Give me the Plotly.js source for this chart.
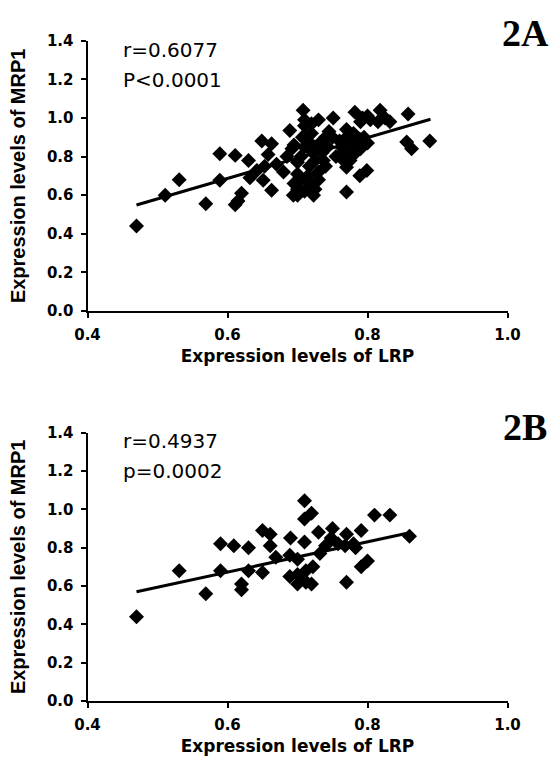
<!DOCTYPE html>
<html>
<head>
<meta charset="utf-8">
<script src="https://cdn.plot.ly/plotly-3.0.1.min.js"></script>
<style>html,body{margin:0;padding:0;background:#fff;}#chart{width:558px;height:760px;}</style>
</head>
<body>
<div id="chart"></div>
<script>
// Panel 2A: all samples
const lrpA = [0.47,0.511,0.531,0.569,0.589,0.589,0.611,0.611,0.615,0.62,0.63,0.632,0.642,0.651,0.649,0.663,0.658,0.663,0.653,0.67,
  0.689,0.692,0.694,0.70,0.708,0.71,0.707,0.70,0.717,0.723,0.73,0.722,0.732,0.737,0.751,0.75,0.743,0.77,0.77,0.77,
  0.763,0.776,0.782,0.783,0.789,0.789,0.799,0.793,0.804,0.818,0.832,0.856,0.863,0.858,0.889,0.763,0.778,
  0.695,0.70,0.705,0.71,0.715,0.72,0.725,0.73,0.70,0.705,0.71,0.715,0.72,0.725,0.73,0.735,0.74,0.745,0.71,0.72,0.695,0.74,0.715,0.725,
  0.765,0.77,0.775,0.78,0.785,0.79,0.795,0.80,0.77,0.78,0.80,0.815,0.825,0.79,0.68,0.685,0.755,0.76];
const mrpA = [0.44,0.60,0.68,0.556,0.677,0.815,0.806,0.55,0.57,0.61,0.78,0.69,0.728,0.677,0.88,0.866,0.81,0.625,0.75,0.76,
  0.935,0.84,0.60,0.60,1.04,0.99,0.90,0.71,0.75,0.60,0.99,0.82,0.87,0.78,1.00,0.90,0.85,0.94,0.745,0.616,
  0.85,0.87,1.03,0.82,0.89,0.70,0.728,1.00,0.99,1.04,0.98,0.875,0.84,1.02,0.88,0.79,0.83,
  0.66,0.63,0.68,0.62,0.64,0.66,0.63,0.68,0.77,0.80,0.85,0.88,0.92,0.78,0.72,0.82,0.90,0.93,0.96,0.97,0.86,0.75,0.70,0.85,
  0.82,0.80,0.78,0.86,0.88,0.84,0.90,0.87,0.90,0.92,1.01,0.98,1.00,0.98,0.72,0.80,0.80,0.88];
const fitXA = [0.47, 0.89];
const fitYA = [0.549, 0.993];

// Panel 2B: subset
const lrpB = [0.47,0.531,0.569,0.59,0.59,0.609,0.62,0.62,0.63,0.63,0.65,0.65,0.661,0.661,0.669,0.69,0.689,0.70,0.689,0.71,
  0.71,0.72,0.71,0.70,0.712,0.72,0.73,0.722,0.707,0.732,0.74,0.75,0.748,0.77,0.768,0.77,0.78,0.783,0.791,0.791,
  0.80,0.81,0.832,0.86,0.758,0.70,0.712];
const mrpB = [0.44,0.68,0.56,0.68,0.82,0.81,0.61,0.58,0.80,0.68,0.67,0.89,0.87,0.81,0.75,0.85,0.76,0.61,0.65,1.045,
  0.95,0.98,0.83,0.74,0.68,0.61,0.88,0.70,0.64,0.77,0.81,0.90,0.85,0.87,0.81,0.62,0.82,0.80,0.89,0.70,
  0.73,0.97,0.97,0.86,0.82,0.66,0.62];
const fitXB = [0.47, 0.86];
const fitYB = [0.570, 0.878];

const xTicks = [0.4, 0.6, 0.8, 1.0];
const xTickText = ['0.4', '0.6', '0.8', '1.0'];
const yTicks = [0.0, 0.2, 0.4, 0.6, 0.8, 1.0, 1.2, 1.4];
const yTickText = ['0.0', '0.2', '0.4', '0.6', '0.8', '1.0', '1.2', '1.4'];
const xTitle = 'Expression levels of LRP';
const yTitle = 'Expression levels of MRP1';
const statsA = ['r=0.6077', 'P<0.0001'];
const statsB = ['r=0.4937', 'p=0.0002'];
const panelLabels = ['2A', '2B'];

const marker = {symbol: 'diamond', size: 11.5, color: '#000', line: {width: 0}};
const traces = [
  {x: lrpA, y: mrpA, mode: 'markers', type: 'scatter', marker: marker, xaxis: 'x', yaxis: 'y', cliponaxis: false},
  {x: fitXA, y: fitYA, mode: 'lines', type: 'scatter', line: {color: '#000', width: 3}, xaxis: 'x', yaxis: 'y'},
  {x: lrpB, y: mrpB, mode: 'markers', type: 'scatter', marker: marker, xaxis: 'x2', yaxis: 'y2', cliponaxis: false},
  {x: fitXB, y: fitYB, mode: 'lines', type: 'scatter', line: {color: '#000', width: 3}, xaxis: 'x2', yaxis: 'y2'}
];

const tickFont = {family: 'DejaVu Sans', size: 15, color: '#000', weight: 'bold'};
function xAxis(anchor, dom) {
  return {domain: dom, anchor: anchor, range: [0.4, 1.0], tickvals: xTicks, ticktext: xTickText,
    showline: true, linecolor: '#000', linewidth: 2, ticks: 'outside', ticklen: 5, tickwidth: 2, tickcolor: '#000',
    showgrid: false, zeroline: false, tickfont: tickFont, ticklabelstandoff: 4,
    title: {text: xTitle, font: {family: 'DejaVu Sans', size: 17, color: '#000', weight: 'bold'}, standoff: 7}};
}
function yAxis(anchor, dom) {
  return {domain: dom, anchor: anchor, range: [0, 1.4], tickvals: yTicks, ticktext: yTickText,
    showline: true, linecolor: '#000', linewidth: 2, ticks: 'outside', ticklen: 5, tickwidth: 2, tickcolor: '#000',
    showgrid: false, zeroline: false, tickfont: tickFont, ticklabelstandoff: 4,
    title: {text: yTitle, font: {family: 'Liberation Sans', size: 20, color: '#000', weight: 'bold'}, standoff: 16}};
}
const xd = [87.5/558, 507.5/558];
const layout = {
  width: 558, height: 760,
  margin: {l: 0, r: 0, t: 0, b: 0},
  paper_bgcolor: '#fff', plot_bgcolor: '#fff',
  showlegend: false,
  xaxis: xAxis('y', xd),
  yaxis: yAxis('x', [1 - 311/760, 1 - 40.7/760]),
  xaxis2: xAxis('y2', xd),
  yaxis2: yAxis('x2', [1 - 701/760, 1 - 432.7/760]),
  annotations: [
    {text: statsA[0], xref: 'paper', yref: 'paper', x: 121/558, y: 1 - 50/760, xanchor: 'left', yanchor: 'middle', showarrow: false, font: {family: 'DejaVu Sans', size: 20, color: '#000'}},
    {text: statsA[1], xref: 'paper', yref: 'paper', x: 121/558, y: 1 - 80/760, xanchor: 'left', yanchor: 'middle', showarrow: false, font: {family: 'DejaVu Sans', size: 20, color: '#000'}},
    {text: statsB[0], xref: 'paper', yref: 'paper', x: 121/558, y: 1 - 441/760, xanchor: 'left', yanchor: 'middle', showarrow: false, font: {family: 'DejaVu Sans', size: 20, color: '#000'}},
    {text: statsB[1], xref: 'paper', yref: 'paper', x: 121/558, y: 1 - 471/760, xanchor: 'left', yanchor: 'middle', showarrow: false, font: {family: 'DejaVu Sans', size: 20, color: '#000'}},
    {text: '<b>' + panelLabels[0] + '</b>', xref: 'paper', yref: 'paper', x: 525/558, y: 1 - 33/760, xanchor: 'center', yanchor: 'middle', showarrow: false, font: {family: 'Liberation Serif', size: 38, color: '#000'}},
    {text: '<b>' + panelLabels[1] + '</b>', xref: 'paper', yref: 'paper', x: 525/558, y: 1 - 427/760, xanchor: 'center', yanchor: 'middle', showarrow: false, font: {family: 'Liberation Serif', size: 38, color: '#000'}}
  ]
};
Plotly.newPlot('chart', traces, layout, {staticPlot: true, displayModeBar: false});
</script>
</body>
</html>
